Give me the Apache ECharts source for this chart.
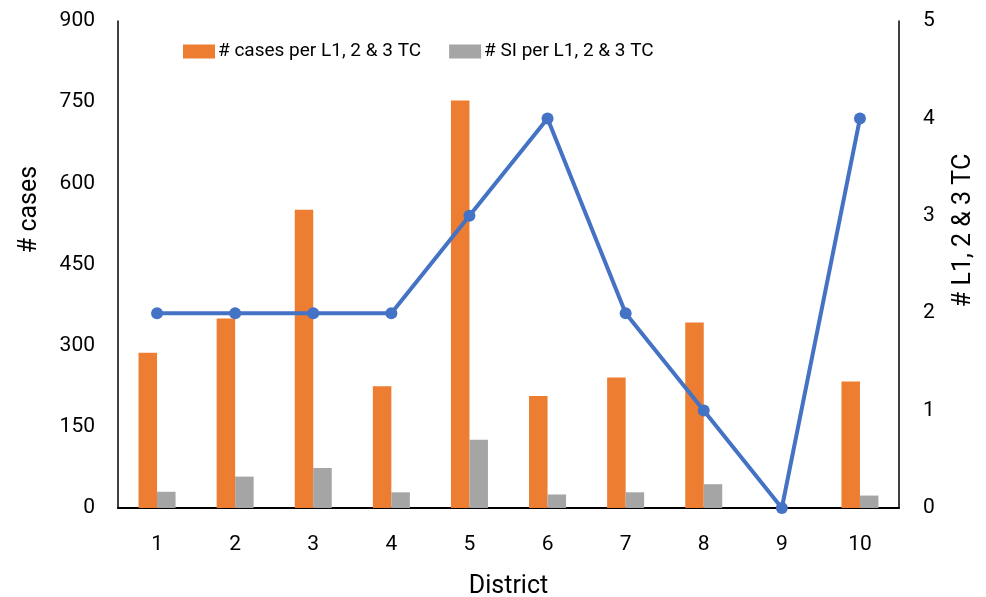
<!DOCTYPE html>
<html>
<head>
<meta charset="utf-8">
<script src="https://cdn.jsdelivr.net/npm/echarts@6/dist/echarts.min.js"></script>
<style>html,body{margin:0;padding:0;background:#fff}#c{width:986px;height:597px}</style>
</head>
<body>
<div id="c"></div>
<script>
const districts = ['1','2','3','4','5','6','7','8','9','10'];
const casesPerTC = [287, 350, 551, 225, 753, 207, 241, 343, null, 234];
const siPerTC = [30, 58, 74, 29, 126, 25, 29, 44, null, 23];
const tcCount = [2, 2, 2, 2, 3, 4, 2, 1, 0, 4];
const leftTicks = [0, 150, 300, 450, 600, 750, 900];
const rightTicks = [0, 1, 2, 3, 4, 5];

const FONT = 'Roboto';
const chart = echarts.init(document.getElementById('c'), null, {renderer: 'canvas'});
chart.setOption({
  animation: false,
  textStyle: {fontFamily: FONT, color: '#000'},
  grid: {left: 118, width: 781, top: 21, height: 487, containLabel: false, outerBoundsMode: 'none'},
  legend: {
    left: 178, top: 37,
    itemWidth: 32, itemHeight: 14, itemGap: 28,
    icon: 'rect',
    textStyle: {fontFamily: FONT, fontSize: 19, color: '#000', padding: [0,0,0,-2]},
    data: ['# cases per L1, 2 & 3 TC', '# SI per L1, 2 & 3 TC']
  },
  xAxis: {
    type: 'category',
    data: districts,
    name: 'District',
    nameLocation: 'middle',
    nameGap: 66,
    nameTextStyle: {fontFamily: FONT, fontSize: 25, color: '#000'},
    axisLine: {lineStyle: {color: '#000', width: 2}},
    axisTick: {show: false},
    axisLabel: {fontFamily: FONT, fontSize: 21, color: '#000', margin: 26}
  },
  yAxis: [
    {
      type: 'value', min: leftTicks[0], max: leftTicks[leftTicks.length-1], interval: 150,
      name: '# cases', nameLocation: 'middle', nameGap: 76, nameRotate: 90,
      nameTextStyle: {fontFamily: FONT, fontSize: 25, color: '#000', padding: [0,0,0,110]},
      axisLine: {show: true, lineStyle: {color: '#000', width: 1.5}},
      axisTick: {show: false},
      splitLine: {show: false},
      axisLabel: {fontFamily: FONT, fontSize: 21, color: '#000', margin: 23}
    },
    {
      type: 'value', min: rightTicks[0], max: rightTicks[rightTicks.length-1], interval: 1,
      position: 'right',
      name: '# L1, 2 & 3 TC', nameLocation: 'middle', nameGap: 52, nameRotate: 90,
      nameTextStyle: {fontFamily: FONT, fontSize: 25, color: '#000', padding: [0,0,0,68]},
      axisLine: {show: true, lineStyle: {color: '#000', width: 1.5}},
      axisTick: {show: false},
      splitLine: {show: false},
      axisLabel: {fontFamily: FONT, fontSize: 21, color: '#000', margin: 24}
    }
  ],
  series: [
    {
      name: '# cases per L1, 2 & 3 TC', type: 'bar', data: casesPerTC,
      barWidth: 18.5, barGap: '0%',
      itemStyle: {color: '#ED7D31'}
    },
    {
      name: '# SI per L1, 2 & 3 TC', type: 'bar', data: siPerTC,
      barWidth: 18.5, barGap: '0%',
      itemStyle: {color: '#A5A5A5'}
    },
    {
      name: '# L1, 2 & 3 TC', type: 'line', yAxisIndex: 1, data: tcCount,
      symbol: 'circle', symbolSize: 12,
      lineStyle: {color: '#4472C4', width: 4},
      itemStyle: {color: '#4472C4'},
      z: 5
    }
  ]
});
</script>
</body>
</html>
